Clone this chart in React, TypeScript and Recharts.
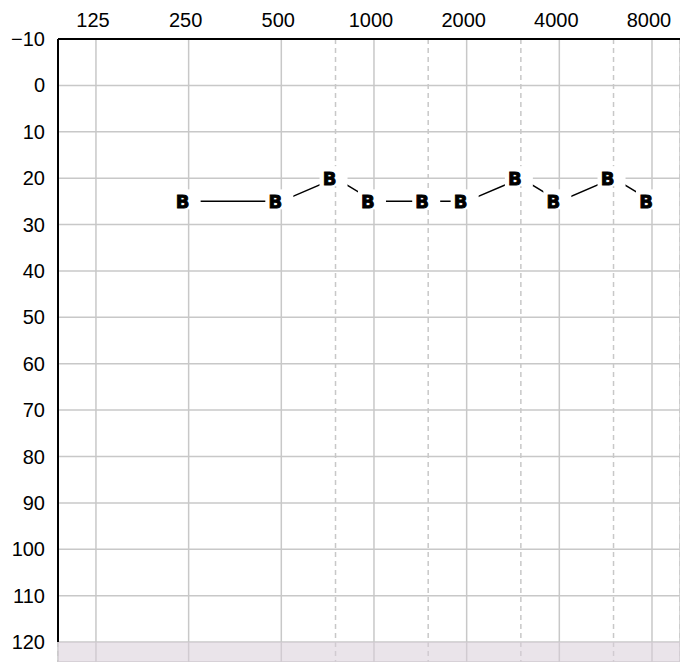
import { LineChart, Line, XAxis, YAxis, CartesianGrid, ReferenceLine, ReferenceArea } from "recharts"

// octave frequencies (solid grid + labels) and inter-octave frequencies (dashed grid)
const octaveFreqs = [125, 250, 500, 1000, 2000, 4000, 8000]
const interOctaveFreqs = [750, 1500, 3000, 6000]
const levelTicks = [-10, 0, 10, 20, 30, 40, 50, 60, 70, 80, 90, 100, 110, 120]

// binaural thresholds (dB HL)
const testFreqs = [250, 500, 750, 1000, 1500, 2000, 3000, 4000, 6000, 8000]
const thresholds = [25, 25, 20, 25, 25, 25, 20, 25, 20, 25]

const data = testFreqs.map((freq, i) => ({ freq, db: thresholds[i] }))

const FREQ_DOMAIN: [number, number] = [94.1, 9864]
const LEVEL_DOMAIN: [number, number] = [-10, 124.3]
const FONT = "'Liberation Sans', Arial, sans-serif"

// proper minus sign for negative levels
const formatLevel = (v: number) => String(v).replace("-", "\u2212")

function BMark(props: any) {
  const { cx, cy, index } = props
  if (cx == null || cy == null) return null
  return (
    <g key={`b-${index}`}>
      <rect x={cx - 16} y={cy - 12} width={28} height={20} fill="#fff" />
      <text
        x={cx - 6}
        y={cy + 7}
        textAnchor="middle"
        fontFamily="'DejaVu Sans', sans-serif"
        fontWeight="bold"
        fontSize={18}
        fill="#000"
        stroke="#000"
        strokeWidth={0.9}
      >
        B
      </text>
    </g>
  )
}

export default function App() {
  return (
    <div style={{ position: "absolute", left: 0, top: 0 }}>
      <LineChart
        width={680}
        height={662}
        data={data}
        margin={{ top: 0, right: 0, bottom: 0, left: 0 }}
        style={{ fontFamily: FONT }}
      >
        <CartesianGrid stroke="#c8c8c8" strokeWidth={1.5} />
        <CartesianGrid xAxisId="mid" stroke="#c8c8c8" strokeWidth={1.5} horizontal={false} strokeDasharray="5 4" />
        <XAxis
          dataKey="freq"
          type="number"
          scale="log"
          domain={FREQ_DOMAIN}
          allowDataOverflow
          orientation="top"
          height={39}
          ticks={octaveFreqs}
          interval={0}
          tickLine={false}
          tickSize={0}
          tickMargin={12}
          axisLine={{ stroke: "#000", strokeWidth: 2 }}
          tick={{ fontSize: 20, fill: "#000", fontFamily: FONT, dx: -3 }}
        />
        <XAxis
          xAxisId="mid"
          dataKey="freq"
          type="number"
          scale="log"
          domain={FREQ_DOMAIN}
          allowDataOverflow
          ticks={interOctaveFreqs}
          interval={0}
          hide
        />
        <YAxis
          type="number"
          reversed
          domain={LEVEL_DOMAIN}
          allowDataOverflow
          width={58}
          ticks={levelTicks}
          interval={0}
          axisLine={false}
          tickLine={false}
          tickSize={0}
          tickMargin={13}
          tickFormatter={formatLevel}
          tick={{ fontSize: 20, fill: "#000", fontFamily: FONT }}
        />
        <ReferenceArea y1={120} y2={LEVEL_DOMAIN[1]} fill="#d8cdd8" fillOpacity={0.55} stroke="none" />
        <ReferenceLine
          segment={[
            { x: FREQ_DOMAIN[0], y: -10 },
            { x: FREQ_DOMAIN[0], y: 120 },
          ]}
          stroke="#000"
          strokeWidth={2}
        />
        <Line
          dataKey="db"
          type="linear"
          stroke="#000"
          strokeWidth={1.5}
          dot={BMark}
          activeDot={false}
          isAnimationActive={false}
        />
      </LineChart>
    </div>
  )
}
